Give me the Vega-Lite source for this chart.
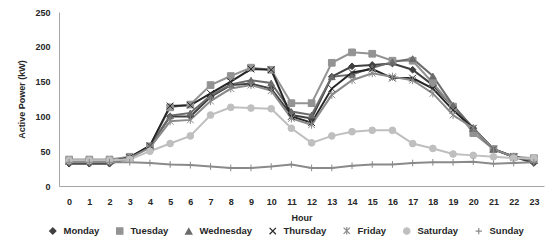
{
  "$schema": "https://vega.github.io/schema/vega-lite/v6.json",
  "width": 485,
  "height": 174,
  "autosize": {"type": "none"},
  "padding": {"left": 59, "top": 12, "right": 13, "bottom": 61},
  "background": "white",
  "config": {
    "view": {"stroke": null},
    "font": "Liberation Sans",
    "axis": {"labelFont": "Liberation Sans", "labelFontSize": 9, "labelFontWeight": "bold", "labelColor": "#262626", "titleFont": "Liberation Sans", "titleFontSize": 9, "titleFontWeight": "bold", "titleColor": "#262626", "domainColor": "#a6a6a6", "grid": false, "ticks": false},
    "legend": {"labelFont": "Liberation Sans", "labelFontSize": 9.5, "labelFontWeight": "bold", "labelColor": "#262626", "orient": "none", "legendX": -11, "legendY": 214, "direction": "horizontal", "columns": 7, "columnPadding": 14, "labelOffset": 6, "symbolSize": 40, "symbolStrokeWidth": 1.2, "symbolOpacity": 1, "title": null}
  },
  "datasets": {
    "power": [
      {"day":"Monday","hour":0,"kw":32},{"day":"Monday","hour":1,"kw":32},{"day":"Monday","hour":2,"kw":32},{"day":"Monday","hour":3,"kw":40},{"day":"Monday","hour":4,"kw":57},{"day":"Monday","hour":5,"kw":100},{"day":"Monday","hour":6,"kw":100},{"day":"Monday","hour":7,"kw":128},{"day":"Monday","hour":8,"kw":145},{"day":"Monday","hour":9,"kw":147},{"day":"Monday","hour":10,"kw":140},{"day":"Monday","hour":11,"kw":102},{"day":"Monday","hour":12,"kw":97},{"day":"Monday","hour":13,"kw":157},{"day":"Monday","hour":14,"kw":172},{"day":"Monday","hour":15,"kw":174},{"day":"Monday","hour":16,"kw":176},{"day":"Monday","hour":17,"kw":167},{"day":"Monday","hour":18,"kw":145},{"day":"Monday","hour":19,"kw":114},{"day":"Monday","hour":20,"kw":83},{"day":"Monday","hour":21,"kw":53},{"day":"Monday","hour":22,"kw":42},{"day":"Monday","hour":23,"kw":33},
      {"day":"Tuesday","hour":0,"kw":38},{"day":"Tuesday","hour":1,"kw":38},{"day":"Tuesday","hour":2,"kw":38},{"day":"Tuesday","hour":3,"kw":42},{"day":"Tuesday","hour":4,"kw":57},{"day":"Tuesday","hour":5,"kw":113},{"day":"Tuesday","hour":6,"kw":117},{"day":"Tuesday","hour":7,"kw":145},{"day":"Tuesday","hour":8,"kw":158},{"day":"Tuesday","hour":9,"kw":170},{"day":"Tuesday","hour":10,"kw":167},{"day":"Tuesday","hour":11,"kw":119},{"day":"Tuesday","hour":12,"kw":119},{"day":"Tuesday","hour":13,"kw":177},{"day":"Tuesday","hour":14,"kw":192},{"day":"Tuesday","hour":15,"kw":190},{"day":"Tuesday","hour":16,"kw":180},{"day":"Tuesday","hour":17,"kw":180},{"day":"Tuesday","hour":18,"kw":148},{"day":"Tuesday","hour":19,"kw":114},{"day":"Tuesday","hour":20,"kw":76},{"day":"Tuesday","hour":21,"kw":53},{"day":"Tuesday","hour":22,"kw":42},{"day":"Tuesday","hour":23,"kw":40},
      {"day":"Wednesday","hour":0,"kw":35},{"day":"Wednesday","hour":1,"kw":35},{"day":"Wednesday","hour":2,"kw":35},{"day":"Wednesday","hour":3,"kw":41},{"day":"Wednesday","hour":4,"kw":57},{"day":"Wednesday","hour":5,"kw":101},{"day":"Wednesday","hour":6,"kw":105},{"day":"Wednesday","hour":7,"kw":130},{"day":"Wednesday","hour":8,"kw":146},{"day":"Wednesday","hour":9,"kw":152},{"day":"Wednesday","hour":10,"kw":148},{"day":"Wednesday","hour":11,"kw":107},{"day":"Wednesday","hour":12,"kw":102},{"day":"Wednesday","hour":13,"kw":157},{"day":"Wednesday","hour":14,"kw":160},{"day":"Wednesday","hour":15,"kw":170},{"day":"Wednesday","hour":16,"kw":178},{"day":"Wednesday","hour":17,"kw":183},{"day":"Wednesday","hour":18,"kw":158},{"day":"Wednesday","hour":19,"kw":116},{"day":"Wednesday","hour":20,"kw":83},{"day":"Wednesday","hour":21,"kw":53},{"day":"Wednesday","hour":22,"kw":42},{"day":"Wednesday","hour":23,"kw":37},
      {"day":"Thursday","hour":0,"kw":35},{"day":"Thursday","hour":1,"kw":35},{"day":"Thursday","hour":2,"kw":35},{"day":"Thursday","hour":3,"kw":41},{"day":"Thursday","hour":4,"kw":58},{"day":"Thursday","hour":5,"kw":115},{"day":"Thursday","hour":6,"kw":116},{"day":"Thursday","hour":7,"kw":133},{"day":"Thursday","hour":8,"kw":150},{"day":"Thursday","hour":9,"kw":168},{"day":"Thursday","hour":10,"kw":167},{"day":"Thursday","hour":11,"kw":100},{"day":"Thursday","hour":12,"kw":91},{"day":"Thursday","hour":13,"kw":140},{"day":"Thursday","hour":14,"kw":163},{"day":"Thursday","hour":15,"kw":168},{"day":"Thursday","hour":16,"kw":155},{"day":"Thursday","hour":17,"kw":155},{"day":"Thursday","hour":18,"kw":140},{"day":"Thursday","hour":19,"kw":109},{"day":"Thursday","hour":20,"kw":83},{"day":"Thursday","hour":21,"kw":53},{"day":"Thursday","hour":22,"kw":42},{"day":"Thursday","hour":23,"kw":37},
      {"day":"Friday","hour":0,"kw":35},{"day":"Friday","hour":1,"kw":35},{"day":"Friday","hour":2,"kw":35},{"day":"Friday","hour":3,"kw":40},{"day":"Friday","hour":4,"kw":55},{"day":"Friday","hour":5,"kw":93},{"day":"Friday","hour":6,"kw":95},{"day":"Friday","hour":7,"kw":122},{"day":"Friday","hour":8,"kw":140},{"day":"Friday","hour":9,"kw":145},{"day":"Friday","hour":10,"kw":137},{"day":"Friday","hour":11,"kw":97},{"day":"Friday","hour":12,"kw":88},{"day":"Friday","hour":13,"kw":131},{"day":"Friday","hour":14,"kw":152},{"day":"Friday","hour":15,"kw":162},{"day":"Friday","hour":16,"kw":157},{"day":"Friday","hour":17,"kw":152},{"day":"Friday","hour":18,"kw":133},{"day":"Friday","hour":19,"kw":102},{"day":"Friday","hour":20,"kw":83},{"day":"Friday","hour":21,"kw":53},{"day":"Friday","hour":22,"kw":42},{"day":"Friday","hour":23,"kw":37},
      {"day":"Saturday","hour":0,"kw":37},{"day":"Saturday","hour":1,"kw":37},{"day":"Saturday","hour":2,"kw":37},{"day":"Saturday","hour":3,"kw":38},{"day":"Saturday","hour":4,"kw":50},{"day":"Saturday","hour":5,"kw":61},{"day":"Saturday","hour":6,"kw":72},{"day":"Saturday","hour":7,"kw":102},{"day":"Saturday","hour":8,"kw":113},{"day":"Saturday","hour":9,"kw":112},{"day":"Saturday","hour":10,"kw":111},{"day":"Saturday","hour":11,"kw":83},{"day":"Saturday","hour":12,"kw":62},{"day":"Saturday","hour":13,"kw":72},{"day":"Saturday","hour":14,"kw":78},{"day":"Saturday","hour":15,"kw":80},{"day":"Saturday","hour":16,"kw":80},{"day":"Saturday","hour":17,"kw":61},{"day":"Saturday","hour":18,"kw":54},{"day":"Saturday","hour":19,"kw":46},{"day":"Saturday","hour":20,"kw":44},{"day":"Saturday","hour":21,"kw":42},{"day":"Saturday","hour":22,"kw":40},{"day":"Saturday","hour":23,"kw":40},
      {"day":"Sunday","hour":0,"kw":34},{"day":"Sunday","hour":1,"kw":34},{"day":"Sunday","hour":2,"kw":34},{"day":"Sunday","hour":3,"kw":34},{"day":"Sunday","hour":4,"kw":33},{"day":"Sunday","hour":5,"kw":31},{"day":"Sunday","hour":6,"kw":30},{"day":"Sunday","hour":7,"kw":28},{"day":"Sunday","hour":8,"kw":26},{"day":"Sunday","hour":9,"kw":26},{"day":"Sunday","hour":10,"kw":28},{"day":"Sunday","hour":11,"kw":31},{"day":"Sunday","hour":12,"kw":26},{"day":"Sunday","hour":13,"kw":26},{"day":"Sunday","hour":14,"kw":29},{"day":"Sunday","hour":15,"kw":31},{"day":"Sunday","hour":16,"kw":31},{"day":"Sunday","hour":17,"kw":33},{"day":"Sunday","hour":18,"kw":34},{"day":"Sunday","hour":19,"kw":34},{"day":"Sunday","hour":20,"kw":35},{"day":"Sunday","hour":21,"kw":32},{"day":"Sunday","hour":22,"kw":33},{"day":"Sunday","hour":23,"kw":34}
    ]
  },
  "data": {"name": "power"},
  "encoding": {
    "x": {"field": "hour", "type": "ordinal", "scale": {"type": "point", "padding": 0.5}, "axis": {"labelAngle": 0, "labelPadding": 11, "title": "Hour", "titlePadding": 7}},
    "y": {"field": "kw", "type": "quantitative", "scale": {"domain": [0, 250], "nice": false}, "axis": {"values": [0, 50, 100, 150, 200, 250], "labelPadding": 9, "title": "Active Power (kW)", "titlePadding": 8}}
  },
  "layer": [
    {
      "mark": {"type": "line", "strokeWidth": 2},
      "encoding": {
        "stroke": {"field": "day", "type": "nominal", "title": null, "scale": {"domain": ["Monday","Tuesday","Wednesday","Thursday","Friday","Saturday","Sunday"], "range": ["#404040","#939393","#6b6b6b","#262626","#8a8a8a","#bfbfbf","#8a8a8a"]}}
      }
    },
    {
      "mark": {"type": "point", "filled": true, "size": 45, "strokeWidth": 1, "opacity": 1},
      "encoding": {
        "fill": {"field": "day", "type": "nominal", "title": null, "scale": {"domain": ["Monday","Tuesday","Wednesday","Thursday","Friday","Saturday","Sunday"], "range": ["#404040","#939393","#6b6b6b","#262626","#8a8a8a","#bfbfbf","#8a8a8a"]}},
        "stroke": {"field": "day", "type": "nominal", "title": null},
        "shape": {"field": "day", "type": "nominal", "title": null, "scale": {"domain": ["Monday","Tuesday","Wednesday","Thursday","Friday","Saturday","Sunday"], "range": ["diamond","square","triangle-up","M-1,-1L1,1M-1,1L1,-1","M-1,-1L1,1M-1,1L1,-1M0,-1.2L0,1.2","circle","M-1,0L1,0M0,-1L0,1"]}}
      }
    }
  ]
}
